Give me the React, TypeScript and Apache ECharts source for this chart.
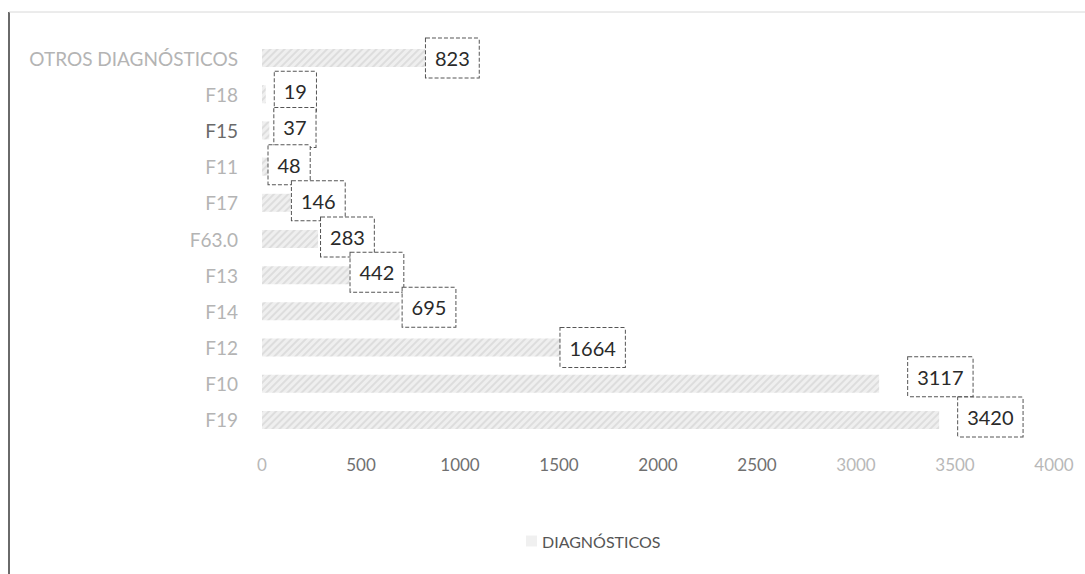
import React, { useEffect, useRef } from "react";
import * as echarts from "echarts";

// Diagnoses listed top to bottom, with their visit counts
const categories = [
  "OTROS DIAGNÓSTICOS",
  "F18",
  "F15",
  "F11",
  "F17",
  "F63.0",
  "F13",
  "F14",
  "F12",
  "F10",
  "F19",
];
const values = [823, 19, 37, 48, 146, 283, 442, 695, 1664, 3117, 3420];
const xTicks = [0, 500, 1000, 1500, 2000, 2500, 3000, 3500, 4000];
const seriesName = "DIAGNÓSTICOS";

// Hand-placed label nudges (px) for a few callouts
const labelOffsets: Record<string, [number, number]> = {
  "OTROS DIAGNÓSTICOS": [-2, 0],
  F18: [6, -3],
  F15: [2, -3],
  F11: [-6, -2],
  F17: [-2, -2],
  F63_0: [0, -2],
  F13: [-2, -3],
  F14: [0, -4],
  F12: [-34, 0],
  F10: [26, -7],
  F19: [16, -3],
};

const fadedTicks = new Set([0, 3000, 3500, 4000]);
const darkCategories = new Set(["F15"]);
const font = "Lato, 'Open Sans', sans-serif";

export default function App() {
  const ref = useRef<HTMLDivElement>(null);

  useEffect(() => {
    if (!ref.current) return;
    const chart = echarts.init(ref.current, undefined, { renderer: "svg" });

    const data = values.map((v, i) => {
      const key = categories[i].replace(".", "_");
      return {
        value: v,
        label: { offset: labelOffsets[key] || [0, 0] },
      };
    });

    chart.setOption({
      animation: false,
      backgroundColor: "#ffffff",
      grid: { left: 262, right: 31, top: 40, bottom: 136 },
      xAxis: {
        type: "value",
        min: 0,
        max: xTicks[xTicks.length - 1],
        interval: 500,
        splitLine: { show: false },
        axisLine: { show: false },
        axisTick: { show: false },
        axisLabel: {
          margin: 18,
          formatter: (v: number) =>
            fadedTicks.has(v) ? `{f|${v}}` : `{d|${v}}`,
          rich: {
            f: { fontFamily: font, fontSize: 17, color: "#b8b8b8" },
            d: { fontFamily: font, fontSize: 17, color: "#707070" },
          },
        },
      },
      yAxis: {
        type: "category",
        inverse: true,
        data: categories,
        axisLine: { show: false },
        axisTick: { show: false },
        axisLabel: {
          margin: 24,
          formatter: (v: string) => (darkCategories.has(v) ? `{d|${v}}` : `{f|${v}}`),
          rich: {
            f: { fontFamily: font, fontSize: 19, color: "#b4b4b4" },
            d: { fontFamily: font, fontSize: 19, color: "#6a6a6a" },
          },
        },
      },
      legend: {
        show: true,
        left: 521,
        top: 528,
        icon: "rect",
        itemWidth: 11,
        itemHeight: 11,
        itemGap: 6,
        itemStyle: { color: "#f0f0f0", decal: "none" },
        textStyle: {
          fontFamily: font,
          fontSize: 16,
          color: "#555555",
        },
      },
      series: [
        {
          name: seriesName,
          type: "bar",
          data,
          barWidth: 18,
          itemStyle: {
            color: "#efefef",
            decal: {
              symbol: "rect",
              symbolSize: 1,
              dashArrayX: [1, 0],
              dashArrayY: [2, 3],
              rotation: -Math.PI / 4,
              color: "rgba(150,150,150,0.2)",
            },
          },
          label: {
            show: true,
            position: "right",
            distance: 3,
            fontFamily: font,
            fontSize: 20,
            color: "#2a2a2a",
            borderColor: "#555555",
            borderWidth: 1,
            borderType: [4, 2],
            backgroundColor: "#ffffff",
            padding: [10, 9, 9, 9],
          },
        },
      ],
      graphic: [
        {
          type: "line",
          shape: { x1: 9, y1: 12, x2: 9, y2: 574 },
          style: { stroke: "#6a6a6a", lineWidth: 2 },
        },
        {
          type: "line",
          shape: { x1: 9, y1: 12, x2: 1085, y2: 12 },
          style: { stroke: "#d8d8d8", lineWidth: 1 },
        },
      ],
    });

    return () => chart.dispose();
  }, []);

  return (
    <div
      ref={ref}
      style={{ position: "fixed", left: 0, top: 0, width: 1085, height: 574 }}
    />
  );
}
